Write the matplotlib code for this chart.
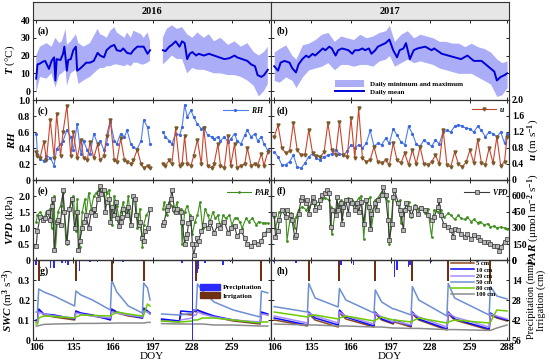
import numpy as np
import matplotlib
matplotlib.use('Agg')
from matplotlib import pyplot as plt
from matplotlib.patches import Patch

nan = np.nan

# ---------------- air temperature ----------------
t16_day = [106,107,109,111,113,114,116,118,120,121,122,125,127,128,130,131,133,135,137,138,140,143,145,148,151,154,156,159,161,164,167,169,172,174,177,180,182,185,188,190,193,195,
           200,
           205,207,210,212,215,218,220,222,224,226,228,231,233,237,241,245,249,253,257,261,263,267,271,274,277,279,282,284,287]
t16_mean = [7,15,15.5,16.5,17,15.5,12.5,17,19,6,18,17.5,21,25,11.5,17.5,18,23,25,11.5,12.5,14.5,16,16,17,21.5,20,19,23,25,26,23,22.5,24,21.5,21,23,25,25,25,21,23,
            nan,
            23,22.5,25,26,28,25,28,27,18,21,22,20,21,20,21,20,19,18,18.5,20,19,18,17,15,14,9,8,9,12]
b16_day = [106,109,114,118,121,124,126,129,130,133,135,137,139,143,148,154,156,159,161,164,167,169,175,177,180,182,185,188,190,193,195,
           200,
           205,208,212,216,220,224,228,232,237,241,245,250,256,261,266,271,276,280,284,287]
b16_max = [20,25,27,25,30,27,28,35,26,28,30,32,27,25,27,35,32,31,30,34,36,33,30,33,30,34,33,32,30,33,28,
           nan,
           30,35,37,35,36,32,30,33,30,32,28,30,26,28,25,27,22,20,22,25]
b16_min = [-1,8,7,10,2,9,10,12,3,10,11,12,4,6,8,12,13,13,14,14,15,15,14,15,14,16,16,15,15,16,17,
           nan,
           15,17,20,18,18,10,13,12,12,11,10,10,9,9,8,6,3,-3,0,4]

t17_day = [106,109,111,114,118,120,123,125,128,131,133,136,138,141,144,146,149,151,154,156,159,164,167,169,172,175,177,180,182,185,
           187,190,193,196,199,202,204,207,209,212,215,218,224,229,231,237,242,247,252,257,262,268,273,278,280,283,286,288]
t17_mean = [14,11.5,16,17,16,13,10.5,15,18,20,19,21,20,22,24,23,25,24,20,23,24,23,21,23,23,24,23,24,21,23,
            25,26,27,29,23,19,23,24,27,18,23,24,25,23,24,21,20,19,18,20,17,17,14,11,6,8,9,10]
b17_day = [106,110,115,120,123,128,133,138,143,148,153,158,163,168,173,178,183,188,193,196,200,205,210,215,220,225,230,235,240,245,
           250,255,260,265,270,275,280,284,288]
b17_max = [22,24,26,20,18,26,27,29,32,33,28,31,30,29,32,30,31,33,34,37,28,32,34,30,32,31,30,28,28,27,27,25,27,25,24,22,18,16,17]
b17_min = [6,5,8,6,2,8,12,13,14,16,12,15,15,14,15,15,14,17,18,20,14,16,18,16,17,16,15,13,12,11,10,10,10,8,6,4,-3,-2,2]

# ---------------- RH and wind speed ----------------
rh16_day = [106,107,109,112,114,117,120,122,125,127,130,133,135,138,141,143,146,148,151,154,156,159,161,164,167,169,172,175,177,180,182,185,188,190,193,195,
            200,
            205,207,210,212,215,218,220,222,224,227,229,232,235,237,240,243,245,248,250,253,256,258,261,263,266,269,271,274,277,279,282,284,287]
rh16 = [0.58,0.32,0.26,0.24,0.30,0.28,0.18,0.39,0.45,0.49,0.62,0.54,0.37,0.70,0.32,0.49,0.37,0.32,0.58,0.45,0.49,0.37,0.45,0.73,0.49,0.45,0.58,0.54,0.62,0.45,0.41,0.39,0.49,0.75,0.66,0.45,
        nan,
        0.60,0.54,0.49,0.45,0.58,0.56,0.66,0.94,0.79,0.87,0.79,0.70,0.64,0.66,0.56,0.54,0.51,0.54,0.49,0.54,0.47,0.51,0.58,0.49,0.45,0.56,0.62,0.54,0.58,0.49,0.54,0.45,0.37]
u16 = [0.70,0.60,0.55,0.96,0.50,1.50,0.55,1.66,0.60,1.20,1.86,0.60,1.20,0.55,1.00,0.55,0.50,0.94,0.55,0.90,0.50,0.60,1.10,1.50,0.50,0.45,1.04,0.50,0.45,0.40,0.50,0.76,0.40,0.30,0.36,0.30,
       nan,
       0.40,0.36,0.50,0.40,1.30,0.36,0.40,1.10,0.40,0.36,0.60,1.00,0.40,1.30,0.36,0.30,0.40,0.90,0.36,0.30,1.10,0.36,0.90,0.30,0.36,0.40,0.80,0.36,0.40,0.36,0.66,0.36,0.70]

rh17_day = list(range(106, 287, 3)) + [288]
rh17 = [0.35,0.29,0.19,0.19,0.23,0.31,0.16,0.15,0.21,0.29,0.33,0.27,0.25,0.29,0.31,0.33,0.375,0.33,0.31,0.36,
        0.44,0.40,0.44,0.40,0.46,0.62,0.42,0.46,0.44,0.52,0.46,0.64,0.56,0.48,0.44,0.67,0.58,0.45,0.42,0.50,
        0.46,0.42,0.50,0.45,0.60,0.62,0.60,0.67,0.69,0.67,0.65,0.64,0.60,0.67,0.62,0.54,0.60,0.58,0.54,0.60,0.46,0.58]
u17 = [1.08,1.37,0.80,0.67,0.72,1.42,0.75,0.62,0.62,1.25,0.67,0.60,0.58,0.70,1.42,0.75,0.62,1.46,0.62,0.58,
       1.54,0.55,1.79,0.54,0.46,0.50,0.83,0.45,0.42,0.50,0.38,0.92,0.50,0.42,0.67,0.38,0.75,0.40,0.83,0.40,
       0.38,0.45,0.62,0.40,1.25,0.38,0.33,0.70,0.40,0.33,0.45,0.75,0.42,1.00,0.42,0.38,0.80,0.42,1.08,0.36,0.45,1.08]

# ---------------- VPD and PAR ----------------
vpd16_day = [106,107,109,111,113,115,117,118,119,120,122,123,125,127,128,130,132,134,136,138,139,140,142,143,145,147,149,151,152,154,
             155,156,157,159,160,161,163,164,165,167,168,169,171,172,173,174,177,178,180,182,183,184,186,187,189,190,191,193,195,
             200,
             205,206,208,209,211,212,214,215,216,219,220,222,223,224,225,227,228,229,231,232,233,235,237,240,242,245,248,250,253,256,
             258,261,263,266,269,271,274,276,279,282,284,287]
vpd16 = [0.45,0.9,1.35,1.25,1.3,1.5,1.25,1.7,1.9,0.3,1.2,1.25,1.1,2.2,1.5,0.55,1.6,1.9,1.0,1.5,0.3,0.6,1.0,1.2,1.4,1.0,1.5,1.6,1.4,1.9,
         2.1,2.3,2.05,2.2,1.5,1.8,1.9,1.2,1.65,1.4,1.8,1.3,1.05,1.2,1.35,1.6,1.4,1.65,1.1,2.0,1.9,1.4,1.1,1.2,0.7,0.6,0.9,1.0,1.6,
         nan,
         1.1,1.2,1.55,1.7,1.9,2.2,1.6,1.5,1.6,1.5,1.2,0.5,0.7,0.8,1.15,1.3,0.5,0.15,0.5,0.7,0.6,0.9,1.1,1.0,1.2,0.85,1.1,1.0,1.2,0.85,
         1.0,1.05,0.75,0.9,0.7,0.5,0.45,0.55,0.5,0.6,0.8,0.95]
par16_day = [106,107,109,112,114,117,118,120,121,123,125,127,129,130,133,135,137,138,140,142,144,145,147,149,151,153,155,156,158,160,
             161,163,165,167,169,171,172,174,176,178,180,182,184,185,187,189,190,192,195,
             200,
             205,206,208,210,212,214,216,217,219,220,222,224,226,228,230,232,234,236,238,240,242,244,246,248,250,252,254,257,259,261,
             263,265,267,270,272,275,278,280,283,285,287]
par16 = [360,420,450,390,450,480,300,600,90,450,510,630,210,150,570,600,270,570,120,450,570,420,630,480,600,630,660,690,660,540,
         630,660,330,600,510,360,450,540,420,600,330,600,570,300,480,120,330,420,480,
         nan,
         480,540,420,540,510,450,540,450,480,150,450,510,420,240,360,420,540,300,480,420,360,450,390,420,300,420,390,420,330,390,
         390,360,300,390,360,390,330,360,345,345,345]

vpd17_day = [106,107,109,110,112,115,116,119,120,122,123,125,127,128,131,132,133,136,137,138,141,142,143,146,147,149,150,151,154,155,
             156,158,159,160,162,164,165,167,169,171,172,174,176,178,180,181,182,185,186,187,190,191,193,195,196,198,199,200,203,204,
             205,207,208,209,211,213,216,218,221,224,226,229,231,234,235,236,239,242,244,246,247,250,252,255,257,260,262,265,267,270,
             273,275,278,280,282,283,286,288]
vpd17 = [1.45,0.72,0.92,1.24,1.56,1.35,1.55,1.40,1.24,0.72,0.77,1.45,1.87,1.98,1.77,1.87,1.45,1.98,1.82,1.56,1.66,1.87,2.03,2.08,2.19,2.08,1.03,1.56,1.40,1.98,
         1.56,1.77,1.14,1.66,1.87,1.45,1.87,1.77,1.56,1.77,1.51,1.82,1.14,1.87,1.66,0.98,1.45,1.77,1.56,1.87,2.03,2.29,2.03,1.24,0.61,1.14,1.98,2.19,1.77,1.56,
         1.45,0.93,1.56,1.77,1.61,1.40,1.66,1.45,1.61,1.56,1.40,1.24,1.35,1.66,1.87,1.40,1.08,1.03,0.93,0.72,0.98,0.93,0.82,0.72,0.82,0.66,0.77,0.72,0.61,0.56,
         0.56,0.50,0.45,0.45,0.29,0.40,0.56,0.66]
par17_day = [106,107,110,112,115,116,119,122,123,125,128,131,133,136,138,141,143,146,149,150,151,154,156,158,159,162,164,167,169,172,
             174,176,178,181,182,185,187,190,193,195,196,199,202,204,205,208,211,213,216,218,221,224,226,229,231,234,236,239,242,244,
             247,250,252,255,257,260,262,265,267,270,273,275,278,280,283,286,288]
par17 = [400,300,450,470,470,180,440,300,400,470,500,470,500,530,520,550,570,580,560,500,240,470,520,560,380,560,580,560,520,580,
         600,200,540,590,300,560,580,640,580,550,150,590,530,560,350,480,540,400,520,480,500,440,480,220,470,450,470,400,440,420,
         380,420,390,380,400,360,380,350,360,330,340,310,320,300,310,300,295]

# ---------------- soil water content ----------------
depths = ['5 cm', '10 cm', '20 cm', '50 cm', '80 cm', '100 cm']
depth_colors = ['#8b4a1c', '#0a0aff', '#a58cff', '#6d8fd2', '#6ccb00', '#8c8c8c']

swc16_day = [106,107,108,112,120,136,137,141,150,164,165,169,178,189,190,193,195,
             200,
             204,218,219,228,229,231,232,236,245,260,281,282,287]
swc16 = {
    '5 cm':   [0.09,0.09,0.15,0.125,0.115,0.10,0.14,0.13,0.12,0.105,0.15,0.135,0.12,0.11,0.155,0.14,0.13, nan,
               0.10,0.09,0.13,0.125,0.145,0.14,0.15,0.135,0.115,0.095,0.08,0.135,0.125],
    '10 cm':  [0.10,0.10,0.155,0.13,0.125,0.105,0.145,0.135,0.125,0.10,0.155,0.14,0.125,0.11,0.16,0.145,0.135, nan,
               0.105,0.095,0.145,0.14,0.15,0.145,0.15,0.14,0.12,0.10,0.085,0.14,0.13],
    '20 cm':  [0.09,0.09,0.14,0.13,0.12,0.11,0.135,0.13,0.12,0.11,0.14,0.135,0.125,0.115,0.145,0.14,0.13, nan,
               0.095,0.09,0.10,0.11,0.125,0.125,0.14,0.13,0.115,0.10,0.09,0.13,0.125],
    '50 cm':  [0.14,0.14,0.255,0.24,0.22,0.17,0.245,0.225,0.20,0.15,0.30,0.24,0.17,0.135,0.285,0.26,0.20, nan,
               0.13,0.125,0.125,0.135,0.15,0.15,0.28,0.245,0.19,0.15,0.115,0.245,0.235],
    '80 cm':  [0.08,0.08,0.11,0.12,0.118,0.11,0.115,0.125,0.123,0.12,0.125,0.14,0.13,0.12,0.125,0.18,0.17, nan,
               0.095,0.09,0.09,0.095,0.10,0.10,0.10,0.11,0.11,0.10,0.085,0.09,0.09],
    '100 cm': [0.07,0.07,0.072,0.078,0.08,0.082,0.082,0.083,0.083,0.084,0.084,0.085,0.085,0.085,0.085,0.088,0.088, nan,
               0.082,0.08,0.08,0.08,0.08,0.08,0.08,0.08,0.075,0.075,0.07,0.07,0.07],
}
swc17_day = [106,132,133,138,156,157,162,184,185,190,199,200,213,214,219,241,242,247,274,275,280,288]
swc17 = {
    '5 cm':   [0.10,0.07,0.13,0.10,0.065,0.135,0.105,0.065,0.13,0.10,0.08,0.09,0.065,0.13,0.10,0.05,0.13,0.10,0.05,0.125,0.11,0.095],
    '10 cm':  [0.11,0.075,0.14,0.11,0.075,0.15,0.115,0.07,0.14,0.105,0.085,0.10,0.07,0.14,0.105,0.055,0.14,0.105,0.055,0.135,0.115,0.10],
    '20 cm':  [0.12,0.085,0.135,0.12,0.085,0.14,0.12,0.08,0.135,0.115,0.09,0.095,0.075,0.135,0.115,0.065,0.135,0.115,0.065,0.13,0.12,0.105],
    '50 cm':  [0.167,0.14,0.283,0.21,0.165,0.258,0.20,0.135,0.25,0.19,0.155,0.155,0.125,0.267,0.20,0.12,0.283,0.21,0.125,0.267,0.22,0.205],
    '80 cm':  [0.14,0.115,0.12,0.125,0.105,0.11,0.12,0.095,0.10,0.115,0.10,0.10,0.09,0.095,0.11,0.085,0.09,0.10,0.085,0.09,0.15,0.145],
    '100 cm': [0.08,0.075,0.075,0.075,0.07,0.07,0.07,0.065,0.065,0.065,0.06,0.06,0.058,0.058,0.058,0.052,0.052,0.052,0.048,0.048,0.06,0.075],
}

# precipitation (mm) and irrigation events
prec16_day = [106,117,120,126,129,131,140,148,154,174,190,220,228,232,233,238,252,258]
prec16 = [3.5,5.3,5.3,2.3,2.3,3.5,7.7,1.5,1.5,1.5,1.5,2.3,60,9,6,2.3,3.5,1.5]
irr16_day = [108,137,165,190,231,282]
irr16 = [15,15,15,15,15,15]
prec17_day = [106,123,158,168,200,202,211,212,229,234,247,262]
prec17 = [1.2,1.9,3.5,3.5,11.7,7,4.7,3.5,1.2,0.8,0.8,0.8]
irr17_day = [133,157,185,214,242,275]
irr17 = [15,15,15,15,15,15]

# ---------------- figure ----------------
plt.rcParams['font.family'] = 'serif'
plt.rcParams['font.serif'] = ['Liberation Serif', 'DejaVu Serif']
plt.rcParams['font.weight'] = 'bold'
plt.rcParams['mathtext.fontset'] = 'custom'
plt.rcParams['mathtext.rm'] = 'Liberation Serif:bold'
plt.rcParams['mathtext.it'] = 'Liberation Serif:bold:italic'
plt.rcParams['mathtext.bf'] = 'Liberation Serif:bold'
plt.rcParams['axes.linewidth'] = 0.8
plt.rcParams['axes.edgecolor'] = '#333333'

W, H = 550., 364.
fig = plt.figure(figsize=(W / 100, H / 100), dpi=100)


def box(x0, y0, x1, y1):
    return fig.add_axes([x0 / W, 1 - y1 / H, (x1 - x0) / W, (y1 - y0) / H])


def fmt1(v, p):
    return '0' if v == 0 else '%.1f' % v


cols = [(33, 271), (271, 509)]
rows = [(20, 100), (100, 180), (180, 260), (260, 340)]
xticks = [106, 135, 166, 197, 228, 259, 288]
letters = [['(a)', '(c)', '(e)', '(g)'], ['(b)', '(d)', '(f)', '(h)']]
LX, RX = -0.068, 1.072   # y label positions (axes fraction)


def style(ax, bottom, right):
    ax.set_xlim(103.5, 289.5)
    ax.set_xticks(xticks)
    if not right:
        ax.set_xticklabels([str(t) for t in xticks[:-1]] + [''])
    ax.tick_params(direction='in', length=2.5, width=0.6, labelsize=7, pad=2, top=True)
    ax.tick_params(axis='x', labelbottom=bottom)


def twin(ax, right_labels):
    a2 = ax.twinx()
    a2.tick_params(direction='in', length=2.5, width=0.6, labelsize=7, pad=2, labelright=right_labels)
    return a2


leg_kw = dict(frameon=False, fontsize=5.5, borderaxespad=0, borderpad=0, handletextpad=0.4)

for ci, (x0, x1) in enumerate(cols):
    right = ci == 1
    # header
    hd = box(x0, 2, x1, 20)
    hd.set_facecolor('#e6e6e6')
    hd.set_xticks([])
    hd.set_yticks([])
    hd.text(0.5, 0.5, '2016' if ci == 0 else '2017', transform=hd.transAxes,
            ha='center', va='center', fontsize=7.5, fontweight='bold')

    axs = [box(x0, y0, x1, y1) for (y0, y1) in rows]
    for k, ax in enumerate(axs):
        style(ax, k == 3, right)
        ax.tick_params(axis='y', labelleft=not right)
        ax.text(0.02 if not right else 0.025, 0.86, letters[ci][k], transform=ax.transAxes,
                ha='left', va='center', fontsize=7, fontweight='bold')

    # (a)/(b) temperature
    ax = axs[0]
    if not right:
        bd, bmax, bmin, td, tm = b16_day, b16_max, b16_min, t16_day, t16_mean
    else:
        bd, bmax, bmin, td, tm = b17_day, b17_max, b17_min, t17_day, t17_mean
    ax.fill_between(bd, bmin, bmax, color='#abaef7', lw=0, label='Daily minimum and maximum')
    ax.plot(td, tm, color='#0000d8', lw=1.4, label='Daily mean')
    ax.set_ylim(-5, 40)
    ax.set_yticks([0, 10, 20, 30, 40])
    ax.tick_params(axis='y', right=True)
    if not right:
        ax.set_ylabel(r'$T$ (°C)', fontsize=8)
        ax.yaxis.set_label_coords(LX, 0.5)
    else:
        ax.legend(loc='lower left', bbox_to_anchor=(0.27, 0.06), frameon=False, fontsize=5,
                  handlelength=4.2, handleheight=1.2, labelspacing=0.15, borderpad=0, borderaxespad=0)

    # (c)/(d) RH and u
    ax = axs[1]
    a2 = twin(ax, right)
    if not right:
        d, rh, uu = rh16_day, rh16, u16
    else:
        d, rh, uu = rh17_day, rh17, u17
    ax.plot(d, rh, color='#4f7ef2', lw=0.8, marker='o', ms=1.3, mec='#3a66e0', label='$RH$')
    a2.plot(d, uu, color='#c8452d', lw=0.8, marker='v', ms=2.2, mfc='#8a6a36', mec='#7a5a2a',
            label='$u$')
    ax.set_ylim(0, 1.0)
    ax.set_yticks([0, 0.2, 0.4, 0.6, 0.8, 1.0])
    ax.yaxis.set_major_formatter(matplotlib.ticker.FuncFormatter(fmt1))
    a2.set_ylim(0, 2.0)
    a2.set_yticks([0, 0.4, 0.8, 1.2, 1.6, 2.0])
    a2.yaxis.set_major_formatter(matplotlib.ticker.FuncFormatter(fmt1))
    if not right:
        ax.set_ylabel(r'$RH$', fontsize=8)
        ax.yaxis.set_label_coords(LX, 0.5)
        ax.legend(handles=[ax.lines[0]], loc='center right', bbox_to_anchor=(0.97, 0.875),
                  handlelength=3.2, **leg_kw)
    else:
        a2.set_ylabel(r'$u$ (m s$^{-1}$)', fontsize=8)
        a2.yaxis.set_label_coords(RX, 0.5)
        a2.legend(handles=[a2.lines[0]], loc='center right', bbox_to_anchor=(0.985, 0.875),
                  handlelength=3.2, **leg_kw)

    # (e)/(f) VPD and PAR
    ax = axs[2]
    a2 = twin(ax, right)
    if not right:
        vd, vv, pd_, pv = vpd16_day, vpd16, par16_day, par16
    else:
        vd, vv, pd_, pv = vpd17_day, vpd17, par17_day, par17
    a2.plot(pd_, pv, color='#3f8f1f', lw=0.8, marker='o', ms=1.0, label='$PAR$')
    ax.plot(vd, vv, color='#3a3a3a', lw=0.8, marker='s', ms=2.2, mfc='#b5b5b5', mec='#333333',
            mew=0.5, label='$VPD$')
    ax.set_zorder(a2.get_zorder() + 1)
    ax.patch.set_visible(False)
    ax.set_ylim(0, 2.5)
    ax.set_yticks([0, 0.5, 1.0, 1.5, 2.0])
    ax.yaxis.set_major_formatter(matplotlib.ticker.FuncFormatter(fmt1))
    a2.set_ylim(0, 750)
    a2.set_yticks([0, 150, 300, 450, 600])
    if not right:
        ax.set_ylabel(r'$VPD$ (kPa)', fontsize=8)
        ax.yaxis.set_label_coords(LX, 0.5)
        ax.legend(handles=[a2.lines[0]], loc='center right', bbox_to_anchor=(1.0, 0.85),
                  handlelength=3.2, **leg_kw)
    else:
        a2.set_ylabel(r'$PAR$ (μmol m$^{-2}$ s$^{-1}$)', fontsize=8)
        a2.yaxis.set_label_coords(RX, 0.5)
        ax.legend(handles=[ax.lines[0]], loc='center right', bbox_to_anchor=(1.0, 0.85),
                  handlelength=3.2, **leg_kw)

    # (g)/(h) SWC, precipitation and irrigation
    ax = axs[3]
    a2 = twin(ax, right)
    sd, sw = (swc16_day, swc16) if not right else (swc17_day, swc17)
    for dep, c in zip(depths, depth_colors):
        ax.plot(sd, sw[dep], color=c, lw=1.1, label=dep)
    if not right:
        prd, prv, ird, irv = prec16_day, prec16, irr16_day, irr16
    else:
        prd, prv, ird, irv = prec17_day, prec17, irr17_day, irr17
    a2.bar(prd, prv, width=1.2, color='#2a2aff', lw=0, label='Precipitation')
    a2.bar(ird, irv, width=1.6, color='#6e2f12', lw=0, label='Irrigation')
    ax.set_ylim(0, 0.4)
    ax.set_yticks([0, 0.1, 0.2, 0.3])
    ax.yaxis.set_major_formatter(matplotlib.ticker.FuncFormatter(fmt1))
    a2.set_ylim(56, 0)
    a2.set_yticks([0, 14, 28, 42, 56])
    if not right:
        ax.set_ylabel(r'$SWC$ (m$^3$ s$^{-3}$)', fontsize=8)
        ax.yaxis.set_label_coords(LX, 0.5)
        hs = [Patch(color='#2a2aff'), Patch(color='#6e2f12')]
        a2.legend(hs, ['Precipitation', 'Irrigation'], loc='center left', bbox_to_anchor=(0.70, 0.61),
                  frameon=False, fontsize=5, handlelength=3.0, handleheight=1.0, labelspacing=0.3,
                  borderpad=0, borderaxespad=0, handletextpad=0.4)
    else:
        a2.set_ylabel('Precipitation (mm)\nIrrigation (cm)', fontsize=7.5, linespacing=1.05)
        a2.yaxis.set_label_coords(RX, 0.5)
        a2.legend(handles=ax.lines[:6], loc='upper left', bbox_to_anchor=(0.755, 0.99),
                  frameon=False, fontsize=4.6, handlelength=3.6, labelspacing=0.12,
                  borderpad=0, borderaxespad=0, handletextpad=0.3)
    ax.set_xlabel('DOY', fontsize=8, labelpad=0)

fig.savefig('out.png', dpi=100)
